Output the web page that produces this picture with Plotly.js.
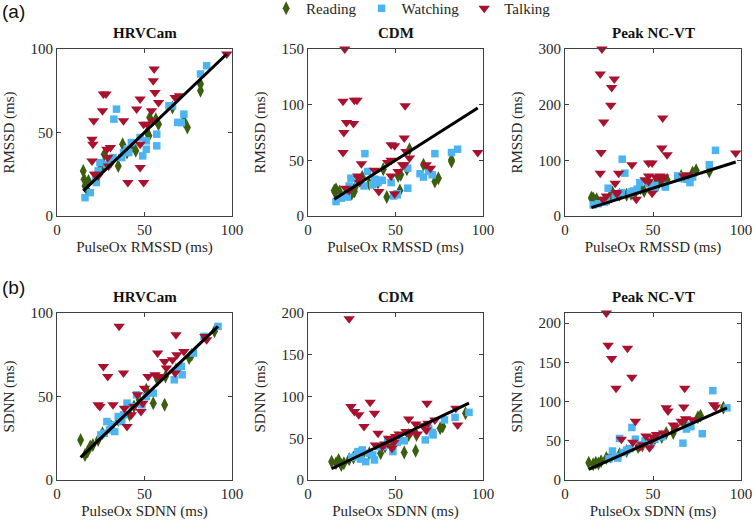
<!DOCTYPE html>
<html>
<head>
<meta charset="utf-8">
<script src="https://cdn.plot.ly/plotly-3.0.1.min.js"></script>
<style>html,body{margin:0;padding:0;background:#fff;}#chart{width:756px;height:530px;}</style>
</head>
<body>
<div id="chart"></div>
<script>
// ---------- Data: row (a) RMSSD ----------
const groups = ['Reading', 'Watching', 'Talking'];
const panelTitles = ['HRVCam', 'CDM', 'Peak NC-VT'];

const rmssdReadX      = [82, 82, 74.5, 72.5, 66, 58, 53, 52.5, 51.5, 45, 43, 37.5, 35, 31, 27, 26.5, 25, 15, 15.5, 16, 17, 18, 40, 56.5];
const hrvcamRmssdRead = [79, 75, 53, 57, 65, 55, 59, 48, 50, 39, 42, 43, 30, 33, 37, 31, 29, 27, 22, 18, 16, 21, 38, 58];
const cdmRmssdRead    = [50.5, 49, 34, 31, 46, 60, 37, 23, 36, 17, 42, 30, 29, 35, 26, 22, 20, 23, 21, 24, 20, 22, 30, 42];
const peakRmssdRead   = [80, 82, 82, 78, 72, 65, 60, 55, 58, 45, 50, 40, 38, 38, 42, 35, 32, 33, 30, 32, 28, 30, 42, 62];

const rmssdWatchX      = [85.5, 82, 72.5, 71, 69, 64, 66, 57, 57, 51, 51, 49, 47.5, 34, 32.5, 42.5, 40, 41, 37, 32, 28.5, 24.5, 23.5, 22, 22.5, 19, 16, 38];
const hrvcamRmssdWatch = [90, 85, 61, 56, 56, 66, 66, 49, 42, 45, 40, 36, 47, 64, 58, 44, 40, 38, 35, 35, 31, 32, 27, 23, 20, 14, 11, 38];
const cdmRmssdWatch    = [60, 57, 56, 37, 40, 38, 35, 43, 25, 19, 20, 18, 30, 40, 56, 32, 30, 32, 28, 27, 30, 34, 27, 19, 17, 16, 13, 33];
const peakRmssdWatch   = [118, 92, 70, 60, 66, 72, 68, 55, 52, 50, 55, 48, 58, 77, 102, 60, 45, 48, 40, 42, 35, 50, 30, 28, 25, 22, 20, 44];

const rmssdTalkX      = [97, 55.5, 55, 56, 58, 54, 47.5, 45.5, 26.5, 28, 26, 38, 21, 20, 20.5, 22, 20, 23.5, 30.5, 28.5, 29, 29.5, 47.5, 47.5, 40.5, 49.5, 49.5, 51.5, 67.5, 70, 55, 21.5];
const hrvcamRmssdTalk = [97, 88, 81, 74, 68, 63, 70, 64, 73, 73, 63, 57, 57, 46, 43, 25, 33, 24, 41, 40, 35, 30, 43, 29, 20, 20, 55, 55, 71, 72, 57, 25];
const cdmRmssdTalk    = [57, 99, 70, 58, 52, 46, 64, 48, 104, 104, 83, 41, 150, 103, 75, 84, 57, 23, 47, 36, 34, 30, 36, 50, 22, 20, 63, 40, 46, 43, 46, 25];
const peakRmssdTalk   = [113, 176, 122, 70, 110, 72, 72, 65, 231, 246, 199, 92, 300, 255, 114, 169, 77, 36, 77, 59, 42, 40, 62, 95, 30, 41, 95, 70, 72, 74, 65, 30];

// ---------- Data: row (b) SDNN ----------
const sdnnReadX      = [13.5, 16, 17.5, 20.5, 23.5, 26, 35, 41.5, 47, 55, 61.5, 57.5, 62, 68, 75.5, 77, 90, 51, 44, 31, 19];
const hrvcamSdnnRead = [24, 15, 17, 21, 24, 28, 36, 39, 48, 46, 45, 60, 62, 66, 73, 75, 89, 54, 44, 32, 20];
const cdmSdnnRead    = [22, 20, 24, 20, 25, 27, 32, 32, 44, 33, 35, 54, 54, 62, 62, 64, 80, 50, 40, 30, 18];
const peakSdnnRead   = [22, 20, 22, 24, 28, 30, 37, 42, 48, 55, 60, 60, 65, 70, 80, 82, 92, 53, 44, 33, 21];

const sdnnWatchX      = [92, 84, 78, 71, 71.5, 67, 69, 51, 45.5, 48.5, 40, 38, 37, 33, 28.5, 31, 27, 25, 43, 55, 35, 30];
const hrvcamSdnnWatch = [92, 86, 76, 68, 63, 60, 66, 50, 51, 45, 46, 39, 35, 29, 35, 33, 28, 27, 44, 52, 38, 30];
const cdmSdnnWatch    = [81, 75, 72, 57, 54, 48, 62, 45, 48, 34, 40, 24, 30, 22, 34, 36, 28, 27, 40, 47, 32, 25];
const peakSdnnWatch   = [92, 114, 59, 70, 68, 47, 65, 52, 50, 45, 52, 67, 40, 35, 30, 53, 37, 27, 45, 55, 38, 28];

const sdnnTalkX      = [35.5, 68, 84.5, 85.5, 26.5, 29, 38, 57.5, 68.5, 72.5, 61.5, 62.5, 56, 52, 67.5, 66, 23.5, 24.5, 32, 40, 38.5, 42.5, 48, 49, 46, 50, 44, 58.5];
const hrvcamSdnnTalk = [92, 87, 86, 84, 68, 62, 64, 76, 75, 77, 71, 67, 63, 62, 64, 72, 45, 44, 45, 32, 43, 39, 41, 46, 51, 55, 44, 62];
const cdmSdnnTalk    = [93, 92, 86, 66, 82, 78, 80, 73, 68, 72, 67, 55, 58, 55, 60, 65, 193, 88, 64, 56, 42, 40, 38, 45, 50, 52, 43, 56];
const peakSdnnTalk   = [168, 117, 96, 93, 155, 117, 131, 92, 78, 77, 70, 68, 60, 58, 93, 75, 213, 172, 52, 75, 48, 42, 41, 50, 56, 55, 45, 88];

// identity (y = x) line extents
const rmssdLineX = [15, 97];
const sdnnLineX = [13.5, 92];

// axis ranges / ticks
const xTicks = [0, 50, 100];
const yRanges = [[0, 100], [0, 150], [0, 300], [0, 100], [0, 200], [0, 213]];
const yTicks = [[0, 50, 100], [0, 50, 100, 150], [0, 100, 200, 300], [0, 50, 100], [0, 50, 100, 150, 200], [0, 50, 100, 150, 200]];

// ---------- Build ----------
const SERIF = 'Liberation Serif';
const colors = {Reading: '#3b5e10', Watching: '#4db4f2', Talking: '#a8122f'};
const symbols = {Reading: 'diamond-tall', Watching: 'square', Talking: 'triangle-down'};
const sizes = {Reading: 10, Watching: 7.5, Talking: 10};

const panels = [
  {x: [rmssdReadX, rmssdWatchX, rmssdTalkX], y: [hrvcamRmssdRead, hrvcamRmssdWatch, hrvcamRmssdTalk], line: rmssdLineX},
  {x: [rmssdReadX, rmssdWatchX, rmssdTalkX], y: [cdmRmssdRead, cdmRmssdWatch, cdmRmssdTalk], line: rmssdLineX},
  {x: [rmssdReadX, rmssdWatchX, rmssdTalkX], y: [peakRmssdRead, peakRmssdWatch, peakRmssdTalk], line: rmssdLineX},
  {x: [sdnnReadX, sdnnWatchX, sdnnTalkX], y: [hrvcamSdnnRead, hrvcamSdnnWatch, hrvcamSdnnTalk], line: sdnnLineX},
  {x: [sdnnReadX, sdnnWatchX, sdnnTalkX], y: [cdmSdnnRead, cdmSdnnWatch, cdmSdnnTalk], line: sdnnLineX},
  {x: [sdnnReadX, sdnnWatchX, sdnnTalkX], y: [peakSdnnRead, peakSdnnWatch, peakSdnnTalk], line: sdnnLineX}
];

const W = 756, H = 530;
const xDom = [[57, 232], [308, 483], [565, 741]];
const yDom = [[49, 216], [313, 480]];

const traces = [];
const layout = {
  width: W, height: H,
  margin: {l: 0, r: 0, t: 0, b: 0, autoexpand: false},
  paper_bgcolor: '#fff', plot_bgcolor: '#fff',
  font: {family: SERIF, size: 15, color: '#262626'},
  showlegend: true,
  legend: {orientation: 'h', x: 0.352, y: 1.015, xanchor: 'left', yanchor: 'top',
           font: {family: SERIF, size: 15, color: '#262626'},
           itemwidth: 30, tracegroupgap: 0, bgcolor: 'rgba(0,0,0,0)'},
  annotations: []
};

const axisBase = {
  showline: true, mirror: 'ticks', linecolor: '#404040', linewidth: 1,
  ticks: 'inside', ticklen: 4, tickcolor: '#404040', tickwidth: 1,
  showgrid: false, zeroline: false,
  tickfont: {family: SERIF, size: 15, color: '#262626'}
};

panels.forEach((p, i) => {
  const n = i + 1;
  const xa = n === 1 ? 'x' : 'x' + n;
  const ya = n === 1 ? 'y' : 'y' + n;
  const col = i % 3, row = Math.floor(i / 3);
  groups.forEach((g, k) => {
    traces.push({
      type: 'scatter', mode: 'markers', name: g, legendgroup: g,
      showlegend: i === 0, cliponaxis: false,
      x: p.x[k], y: p.y[k], xaxis: xa, yaxis: ya,
      marker: {symbol: symbols[g], size: sizes[g], color: colors[g], line: {width: 0}}
    });
  });
  traces.push({
    type: 'scatter', mode: 'lines', showlegend: false, hoverinfo: 'skip',
    x: p.line, y: p.line, xaxis: xa, yaxis: ya,
    line: {color: '#000', width: 3}
  });
  const xname = n === 1 ? 'xaxis' : 'xaxis' + n;
  const yname = n === 1 ? 'yaxis' : 'yaxis' + n;
  const metric = row === 0 ? 'RMSSD' : 'SDNN';
  layout[xname] = Object.assign({}, axisBase, {
    domain: [xDom[col][0] / W, xDom[col][1] / W],
    anchor: ya, range: [0, 100], tickvals: xTicks,
    title: {text: 'PulseOx ' + metric + ' (ms)', standoff: 4, font: {family: SERIF, size: 15, color: '#262626'}}
  });
  layout[yname] = Object.assign({}, axisBase, {
    domain: [1 - yDom[row][1] / H, 1 - yDom[row][0] / H],
    anchor: xa, range: yRanges[i], tickvals: yTicks[i],
    title: {text: metric + ' (ms)', standoff: 12, font: {family: SERIF, size: 15, color: '#262626'}}
  });
  layout.annotations.push({
    text: '<b>' + panelTitles[col] + '</b>', showarrow: false,
    xref: xa + ' domain', yref: ya + ' domain', x: 0.5, y: 1,
    xanchor: 'center', yanchor: 'bottom', yshift: 6,
    font: {family: SERIF, size: 15, color: '#111'}
  });
});

layout.annotations.push({text: '(a)', showarrow: false, xref: 'paper', yref: 'paper',
  x: 0, y: 1 - 12 / H, xanchor: 'left', yanchor: 'middle',
  font: {family: 'Liberation Sans', size: 19, color: '#111'}});
layout.annotations.push({text: '(b)', showarrow: false, xref: 'paper', yref: 'paper',
  x: 0, y: 1 - 287 / H, xanchor: 'left', yanchor: 'middle',
  font: {family: 'Liberation Sans', size: 19, color: '#111'}});

Plotly.newPlot('chart', traces, layout, {displayModeBar: false, staticPlot: true});
</script>
</body>
</html>
